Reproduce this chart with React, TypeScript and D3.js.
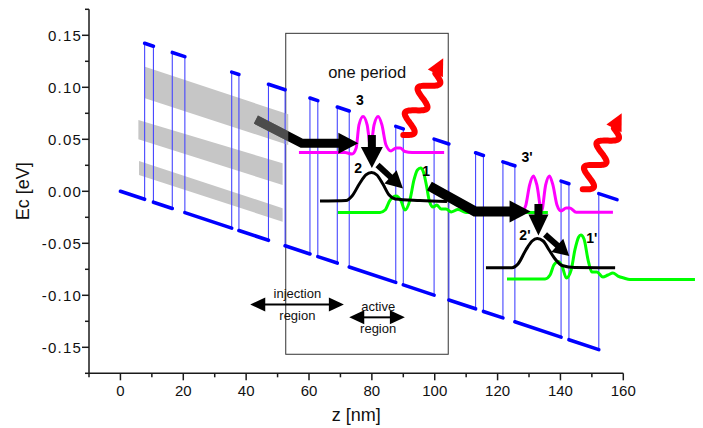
import React from 'react';
import * as d3 from 'd3';

const W = 703;
const H = 428;

// ---- axes ----
const xDomain = [-10, 160];
const yDomain = [-0.175, 0.175];
const xTicks = [0, 20, 40, 60, 80, 100, 120, 140, 160];
const xMinorTicks = [-10, 10, 30, 50, 70, 90, 110, 130, 150];
const yTicks = [-0.15, -0.1, -0.05, 0, 0.05, 0.1, 0.15];
const yTickLabels = ['-0.15', '-0.10', '-0.05', '0.00', '0.05', '0.10', '0.15'];
const yMinorTicks = [-0.175, -0.125, -0.075, -0.025, 0.025, 0.075, 0.125, 0.175];

// ---- conduction band profile (layer interfaces in nm, band bottom in eV) ----
const interfacesZ = [0, 7.7, 10.5, 16.5, 20.5, 35.4, 37.7, 47.1, 52.4, 60.3, 62.8, 69.0, 72.8, 87.6, 90.0, 99.8, 104.5, 113.0, 115.5, 121.7, 125.5, 140.2, 142.7, 152.2, 158.0];
const bandLowE = [0, -0.0077, -0.0105, -0.0165, -0.0205, -0.0354, -0.0377, -0.0471, -0.0524, -0.0603, -0.0628, -0.069, -0.0728, -0.0876, -0.09, -0.0998, -0.1045, -0.113, -0.1155, -0.1217, -0.1255, -0.1402, -0.1427, -0.1522, -0.158];
const barrierHeight = 0.15;

// ---- minibands (left z, top, bottom ; right z, top, bottom) ----
const minibandTop = [7.8, 0.1198, 0.0894, 53.4, 0.074, 0.0445];
const minibandMid = [5.7, 0.0686, 0.05, 51.6, 0.0269, 0.0061];
const minibandLow = [5.9, 0.0291, 0.0156, 51.6, -0.0163, -0.0292];

// ---- wavefunctions ----
const state3Z = [56.8, 71.5, 73.7, 75.0, 75.9, 77.2, 78.5, 79.6, 80.7, 82.0, 83.2, 84.5, 86.1, 87.7, 89.0, 90.5, 92.8, 103.0];
const state3E = [0.0373, 0.0373, 0.0358, 0.0416, 0.0638, 0.0719, 0.0638, 0.0426, 0.0638, 0.0719, 0.0638, 0.0445, 0.0388, 0.0416, 0.0416, 0.0383, 0.0373, 0.0373];
const state2Z = [63.5, 71.8, 73.7, 76.2, 78.1, 79.9, 81.6, 83.5, 85.5, 87.4, 95.3, 103.9];
const state2E = [-0.0093, -0.0088, -0.0045, 0.008, 0.0157, 0.0181, 0.0157, 0.007, -0.0036, -0.0074, -0.0088, -0.0098];
const state1Z = [69.2, 82.6, 84.2, 85.8, 87.7, 89.3, 90.5, 92.1, 93.4, 94.5, 95.5, 96.4, 97.4, 98.3, 99.5, 100.7, 102.0, 103.6, 105.2, 107.4, 110.0, 136.0];
const state1E = [-0.0204, -0.0204, -0.018, -0.0084, -0.0045, -0.0093, -0.018, -0.0084, 0.0109, 0.0205, 0.0224, 0.0186, 0.0051, -0.0093, -0.0151, -0.0132, -0.017, -0.017, -0.0199, -0.0175, -0.0204, -0.0204];
const state3pZ = [127.8, 129.0, 130.2, 131.4, 132.5, 134.0, 135.3, 136.5, 137.6, 138.9, 140.2, 141.8, 143.0, 145.0, 156.7];
const state3pE = [-0.0204, -0.0132, 0.0061, 0.0147, 0.0061, -0.0189, 0.0061, 0.0147, 0.0061, -0.0132, -0.0189, -0.0161, -0.0161, -0.0202, -0.0202];
const state2pZ = [116.3, 124.6, 126.5, 129.0, 131.0, 132.6, 134.5, 136.4, 138.3, 140.5, 144.6, 157.4];
const state2pE = [-0.0735, -0.0735, -0.0699, -0.0564, -0.0478, -0.0454, -0.0478, -0.0564, -0.0651, -0.0713, -0.0733, -0.0735];
const state1pZ = [123.0, 135.1, 136.7, 137.9, 139.3, 140.5, 141.9, 143.4, 144.6, 145.8, 146.5, 147.5, 148.8, 150.0, 151.6, 153.5, 155.1, 156.7, 158.3, 160.2, 162.1, 182.8];
const state1pE = [-0.0843, -0.0843, -0.0805, -0.0709, -0.0675, -0.0718, -0.0834, -0.0757, -0.0564, -0.0439, -0.042, -0.0459, -0.0661, -0.0776, -0.0776, -0.0824, -0.0805, -0.0786, -0.0815, -0.0834, -0.0847, -0.0847];

// ---- arrows (points in data units; last point = tip) ----
const arrowA = [[43.1, 0.069], [57.7, 0.0463], [75.7, 0.0463]];
const arrowB = [[80.0, 0.0541], [80.0, 0.0224]];
const arrowC = [[81.8, 0.0253], [89.9, 0.0027]];
const arrowD = [[98.3, 0.0051], [112.8, -0.0194], [130.5, -0.0194]];
const arrowE = [[133.0, -0.0122], [133.0, -0.0425]];
const arrowF = [[135.1, -0.0415], [142.8, -0.0622]];

const photon1 = [[90.0, 0.0541], [102.7, 0.1279]];
const photon2 = [[147.1, 0.0019], [159.5, 0.075]];

const periodBox = [52.6, 104.3, -0.1567, 0.1519];

const stateLabels = [
  { t: '3', z: 76.2, e: 0.083 },
  { t: '2', z: 75.6, e: 0.0173 },
  { t: '1', z: 97.3, e: 0.015 },
  { t: "3'", z: 129.4, e: 0.0282 },
  { t: "2'", z: 128.7, e: -0.0468 },
  { t: "1'", z: 150.0, e: -0.05 },
];

const FONT = "'Liberation Sans', Arial, Helvetica, sans-serif";

type P = [number, number];

function arrowShapes(pts: P[], shaftW: number, headLen: number, headHalf: number) {
  const n = pts.length;
  const tip = pts[n - 1];
  const prev = pts[n - 2];
  const dx = tip[0] - prev[0];
  const dy = tip[1] - prev[1];
  const L = Math.hypot(dx, dy);
  const ux = dx / L, uy = dy / L;
  const nx = -uy, ny = ux;
  const bx = tip[0] - ux * headLen, by = tip[1] - uy * headLen;
  const shaftPts: P[] = [...pts.slice(0, n - 1), [bx + ux * 1, by + uy * 1]];
  const shaft = 'M' + shaftPts.map(p => p[0] + ',' + p[1]).join('L');
  const head = `M${tip[0]},${tip[1]}L${bx + nx * headHalf},${by + ny * headHalf}L${bx - nx * headHalf},${by - ny * headHalf}Z`;
  return { shaft, head, shaftW };
}

function photonShapes(s: P, t: P, amp: number, cycles: number, headLen: number, headHalf: number) {
  const dx = t[0] - s[0], dy = t[1] - s[1];
  const L = Math.hypot(dx, dy);
  const ux = dx / L, uy = dy / L;
  const nx = -uy, ny = ux;
  const Lw = L - headLen;
  const pts: P[] = [];
  const N = 80;
  for (let i = 0; i <= N; i++) {
    const f = i / N;
    const a = amp * Math.sin(2 * Math.PI * cycles * f);
    pts.push([s[0] + ux * Lw * f + nx * a, s[1] + uy * Lw * f + ny * a]);
  }
  const wave = d3.line().curve(d3.curveBasis)(pts as any) || '';
  const bx = t[0] - ux * headLen, by = t[1] - uy * headLen;
  const head = `M${t[0]},${t[1]}L${bx + nx * headHalf},${by + ny * headHalf}L${bx - nx * headHalf},${by - ny * headHalf}Z`;
  return { wave, head };
}

export default function App() {
  const x = d3.scaleLinear().domain(xDomain).range([89, 623.3]);
  const y = d3.scaleLinear().domain(yDomain).range([373.3, 9.3]);
  const px = (d: number[]): P => [x(d[0]), y(d[1])];

  const curve = d3
    .line<P>()
    .x(d => x(d[0]))
    .y(d => y(d[1]))
    .curve(d3.curveMonotoneX);
  const zip = (zs: number[], es: number[]): P[] => zs.map((z, i) => [z, es[i]]);

  const wells: JSX.Element[] = [];
  const verticals: JSX.Element[] = [];
  for (let i = 0; i < interfacesZ.length - 1; i++) {
    const z0 = interfacesZ[i], z1 = interfacesZ[i + 1];
    const off = i % 2 === 0 ? 0 : barrierHeight;
    wells.push(
      <line key={'w' + i} x1={x(z0)} y1={y(bandLowE[i] + off)} x2={x(z1)} y2={y(bandLowE[i + 1] + off)}
        stroke="#0000ff" strokeWidth={3.6} strokeLinecap="round" />
    );
  }
  for (let i = 1; i < interfacesZ.length - 1; i++) {
    verticals.push(
      <line key={'v' + i} x1={x(interfacesZ[i])} x2={x(interfacesZ[i])} y1={y(bandLowE[i])} y2={y(bandLowE[i] + barrierHeight)}
        stroke="#4646ff" strokeWidth={1.1} />
    );
  }

  const band = (b: number[]) => {
    const p = [px([b[0], b[1]]), px([b[3], b[4]]), px([b[3], b[5]]), px([b[0], b[2]])];
    return 'M' + p.map(q => q[0] + ',' + q[1]).join('L') + 'Z';
  };
  const bandPaths = [band(minibandTop), band(minibandMid), band(minibandLow)];

  const aA = arrowShapes(arrowA.map(px), 9, 20, 10.5);
  const others = [
    arrowShapes(arrowB.map(px), 8, 21, 11),
    arrowShapes(arrowC.map(px), 6, 17, 9),
    arrowShapes(arrowD.map(px), 10, 21, 11),
    arrowShapes(arrowE.map(px), 8, 21, 10),
    arrowShapes(arrowF.map(px), 6, 16, 9),
  ];
  const ph = [photon1, photon2].map(p => photonShapes(px(p[0]), px(p[1]), 9, 2.5, 17, 8.5));

  const doubleArrow = (z0: number, z1: number, e: number, key: string) => {
    const xa = x(z0), xb = x(z1), yy = y(e);
    const hl = 15, hh = 7;
    return (
      <g key={key}>
        <line x1={xa + hl - 1} x2={xb - hl + 1} y1={yy} y2={yy} stroke="#000" strokeWidth={2} />
        <path d={`M${xa},${yy}L${xa + hl},${yy - hh}L${xa + hl},${yy + hh}Z`} fill="#000" />
        <path d={`M${xb},${yy}L${xb - hl},${yy - hh}L${xb - hl},${yy + hh}Z`} fill="#000" />
      </g>
    );
  };

  const axisColor = '#1a1a1a';
  const x0 = x(-10);
  const yBase = y(-0.175);

  return (
    <svg width={W} height={H} style={{ position: 'absolute', left: 0, top: 0, background: '#fff' }} fontFamily={FONT}>
      <defs>
        <mask id="maskA" maskUnits="userSpaceOnUse" x={0} y={0} width={W} height={H}>
          <path d={aA.shaft} stroke="#fff" strokeWidth={aA.shaftW} fill="none" />
          <path d={aA.head} fill="#fff" />
        </mask>
      </defs>

      {/* one period box */}
      <rect x={x(periodBox[0])} y={y(periodBox[3])} width={x(periodBox[1]) - x(periodBox[0])} height={y(periodBox[2]) - y(periodBox[3])}
        fill="none" stroke="#333" strokeWidth={1} />

      {/* minibands */}
      {bandPaths.map((d, i) => <path key={'b' + i} d={d} fill="#c6c6c6" />)}

      {/* band diagram */}
      {verticals}
      {wells}

      {/* wavefunctions */}
      <path d={curve(zip(state3Z, state3E)) || ''} fill="none" stroke="#ff00ff" strokeWidth={3} />
      <path d={curve(zip(state3pZ, state3pE)) || ''} fill="none" stroke="#ff00ff" strokeWidth={3} />
      <path d={curve(zip(state1Z, state1E)) || ''} fill="none" stroke="#00ff00" strokeWidth={3} />
      <path d={curve(zip(state1pZ, state1pE)) || ''} fill="none" stroke="#00ff00" strokeWidth={3} />
      <path d={curve(zip(state2Z, state2E)) || ''} fill="none" stroke="#000" strokeWidth={3} />
      <path d={curve(zip(state2pZ, state2pE)) || ''} fill="none" stroke="#000" strokeWidth={3} />

      {/* arrows */}
      <path d={aA.shaft} stroke="#000" strokeWidth={aA.shaftW} fill="none" strokeLinejoin="miter" />
      <path d={aA.head} fill="#000" />
      <g mask="url(#maskA)">
        {bandPaths.map((d, i) => <path key={'bm' + i} d={d} fill="#b4b4b4" fillOpacity={0.42} />)}
      </g>
      {others.map((a, i) => (
        <g key={'a' + i}>
          <path d={a.shaft} stroke="#000" strokeWidth={a.shaftW} fill="none" strokeLinejoin="miter" />
          <path d={a.head} fill="#000" />
        </g>
      ))}

      {/* photons */}
      {ph.map((p, i) => (
        <g key={'p' + i}>
          <path d={p.wave} fill="none" stroke="#ff0000" strokeWidth={6} strokeLinecap="round" />
          <path d={p.head} fill="#ff0000" />
        </g>
      ))}

      {/* labels */}
      <text x={x(78.5)} y={y(0.1089)} fontSize={16.5} textAnchor="middle" fill="#111">one period</text>
      {stateLabels.map((s, i) => (
        <text key={'s' + i} x={x(s.z)} y={y(s.e)} fontSize={14} fontWeight="bold" textAnchor="middle" fill="#000">{s.t}</text>
      ))}
      <text x={x(56.3)} y={y(-0.1026)} fontSize={13} textAnchor="middle" fill="#111">injection</text>
      <text x={x(56.3)} y={y(-0.1242)} fontSize={13} textAnchor="middle" fill="#111">region</text>
      {doubleArrow(41.3, 71.1, -0.1088, 'inj')}
      <text x={x(82.0)} y={y(-0.1152)} fontSize={13} textAnchor="middle" fill="#111">active</text>
      <text x={x(82.0)} y={y(-0.1367)} fontSize={13} textAnchor="middle" fill="#111">region</text>
      {doubleArrow(72.8, 90.5, -0.1212, 'act')}

      {/* y axis */}
      <line x1={x0} x2={x0} y1={y(0.175)} y2={yBase} stroke={axisColor} strokeWidth={1.5} />
      {yTicks.map((t, i) => (
        <g key={'yt' + i}>
          <line x1={x0 - 7} x2={x0} y1={y(t)} y2={y(t)} stroke={axisColor} strokeWidth={1.5} />
          <text x={x0 - 7} y={y(t) + 5.5} fontSize={15} letterSpacing={1.2} textAnchor="end" fill="#111">{yTickLabels[i]}</text>
        </g>
      ))}
      {yMinorTicks.map((t, i) => (
        <line key={'ym' + i} x1={x0 - 4} x2={x0} y1={y(t)} y2={y(t)} stroke={axisColor} strokeWidth={1.5} />
      ))}
      <text transform={`translate(29, ${(y(0.175) + yBase) / 2}) rotate(-90)`} fontSize={18} textAnchor="middle" fill="#111">Ec [eV]</text>

      {/* x axis */}
      <line x1={x0} x2={x(160)} y1={yBase} y2={yBase} stroke={axisColor} strokeWidth={1.5} />
      {xTicks.map((t, i) => (
        <g key={'xt' + i}>
          <line x1={x(t)} x2={x(t)} y1={yBase} y2={yBase + 7} stroke={axisColor} strokeWidth={1.5} />
          <text x={x(t)} y={yBase + 23} fontSize={15} textAnchor="middle" fill="#111">{t}</text>
        </g>
      ))}
      {xMinorTicks.map((t, i) => (
        <line key={'xm' + i} x1={x(t)} x2={x(t)} y1={yBase} y2={yBase + 4} stroke={axisColor} strokeWidth={1.5} />
      ))}
      <text x={(x0 + x(160)) / 2} y={421} fontSize={18} textAnchor="middle" fill="#111">z [nm]</text>
    </svg>
  );
}
